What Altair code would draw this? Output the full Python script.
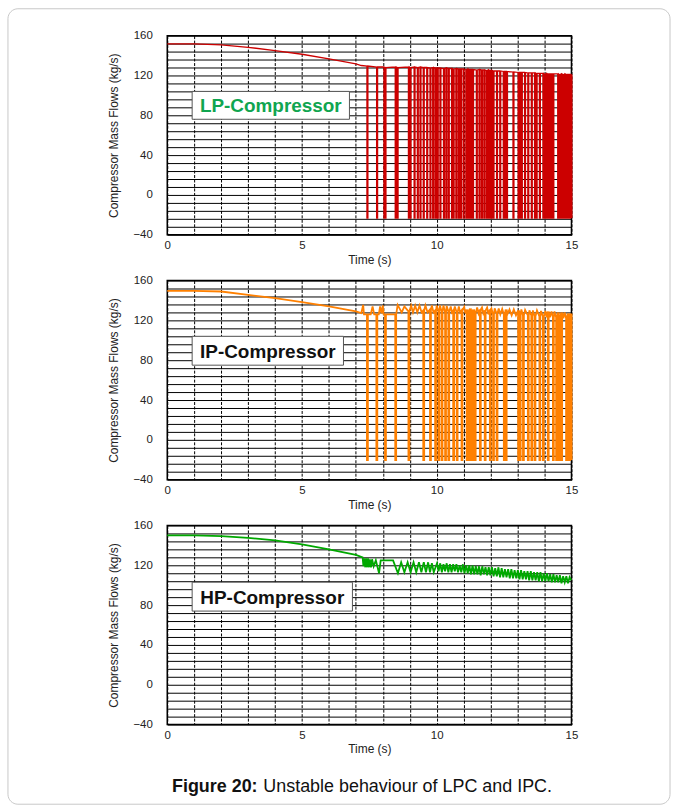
import altair as alt
import pandas as pd

FONT = "Liberation Sans"

# ---------------- LP compressor ----------------
lp_base_t = [0, 1, 2, 3, 4, 5, 6, 7, 7.2]
lp_base_v = [151.7, 151.7, 150.7, 148.3, 145.0, 141.3, 136.7, 131.7, 130.0]
lp_spike_t = [7.41, 7.77, 8.04, 8.08, 8.46, 8.53, 8.95, 9.01, 9.16, 9.28, 9.38, 9.50,
              9.63, 9.75, 9.85, 9.94, 10.02, 10.12, 10.25, 10.34, 10.43, 10.55, 10.61,
              10.71, 10.80, 10.88, 10.98, 11.08, 11.14, 11.20, 11.27, 11.33, 11.47, 11.57,
              11.66, 11.75, 11.84, 11.90, 11.97, 12.03, 12.09, 12.22, 12.34, 12.47, 12.53,
              12.59, 12.83, 13.02, 13.08, 13.14, 13.26, 13.38, 13.51, 13.63, 13.69, 13.81,
              13.94, 14.00, 14.06, 14.12, 14.18, 14.25, 14.31, 14.49, 14.55, 14.62, 14.68,
              14.74, 14.80, 14.86, 14.92, 14.98]
lp_spike_top = [129.5, 128.5, 128.5, 128.0, 128.5, 128.0, 128.5, 128.0, 128.5, 128.0, 128.5, 128.0,
                128.0, 127.5, 128.0, 127.5, 127.5, 127.5, 127.0, 127.5, 127.0, 127.0, 126.5,
                127.0, 126.5, 126.5, 126.5, 126.0, 126.5, 126.0, 126.0, 126.0, 125.5, 126.0,
                125.5, 125.5, 125.0, 125.5, 125.0, 125.0, 124.5, 124.5, 124.5, 124.0, 124.0,
                124.0, 123.5, 123.0, 123.0, 123.0, 123.0, 122.5, 122.5, 122.5, 122.0, 122.0,
                122.0, 121.5, 122.0, 121.5, 121.5, 121.5, 121.5, 121.5, 121.0, 121.5, 121.0,
                121.5, 121.0, 121.0, 121.0, 121.0]
lp_end_t = [15.0]
lp_end_v = [121.0]
LP_FLOOR = -23.3

# ---------------- IP compressor ----------------
ip_base_t = [0, 1, 2, 3, 4, 5, 6, 7, 7.2]
ip_base_v = [149.7, 149.7, 149.0, 145.7, 142.3, 138.3, 134.0, 129.0, 127.3]
ip_peak_t = [7.27, 7.30, 7.55, 7.62, 7.68, 7.85, 7.90, 7.95, 8.00, 8.03, 8.40, 8.55, 8.70, 8.80,
             9.05, 9.12, 9.20, 9.28, 9.36, 9.44, 9.58, 9.66, 9.82, 9.88, 10.00, 10.12, 10.25,
             10.37, 10.52, 10.56, 10.67, 10.82, 10.87, 11.02, 11.06, 11.50, 11.55, 11.68, 11.73,
             11.87, 11.92, 12.03, 12.15, 12.30, 12.36, 12.43, 12.62, 12.70, 12.78, 12.86, 12.94,
             13.14, 13.28, 13.44, 13.57, 13.72, 13.87, 14.03, 14.08, 14.20, 14.26, 14.37, 14.70,
             14.75, 15.00]
ip_peak_v = [135.5, 126, 126, 134, 126, 126, 134, 127, 135, 126, 126, 135.5, 128, 134,
             135, 128, 135, 128, 135, 128, 135, 128, 135, 128, 135, 135, 135,
             134.5, 134, 128, 134, 134, 128, 133.5, 127, 133, 127, 133, 127,
             133, 126, 132, 132, 132, 126, 131.5, 126, 131, 125, 131, 125,
             131, 130.5, 130, 130, 130, 129.5, 129.5, 123, 123, 129, 129, 122,
             128, 124]
ip_spike_t = [7.41, 7.76, 8.08, 8.46, 8.95, 9.50, 9.75, 9.94, 10.06, 10.18, 10.31, 10.43,
              10.61, 10.74, 10.92, 11.11, 11.17, 11.23, 11.29, 11.35, 11.41, 11.60, 11.78,
              11.97, 12.09, 12.22, 12.49, 12.56, 13.02, 13.08, 13.20, 13.38, 13.51, 13.63,
              13.81, 13.94, 14.12, 14.31, 14.43, 14.49, 14.55, 14.62, 14.80, 14.86, 14.92, 14.97]
ip_spike_top = [126, 126, 126, 126, 129, 130, 131, 130, 129, 129, 128, 129,
                130, 128, 130, 131, 127, 132, 127, 131, 127, 131, 130,
                131, 126, 127, 126, 131, 130, 126, 125, 125, 125, 124,
                124, 124, 129, 123, 123, 128, 122, 128, 122, 127, 121, 127]
IP_FLOOR = -20.3

# ---------------- HP compressor ----------------
hp_t = [0, 1, 2, 3, 4, 5, 6, 7, 7.25,
        7.28, 7.31, 7.35, 7.38, 7.42, 7.45, 7.49, 7.52, 7.56, 7.60,
        7.66, 7.74, 7.86, 7.92, 8.38, 8.56, 8.68, 8.80, 8.92,
        9.03, 9.14, 9.24, 9.34, 9.43, 9.52, 9.60, 9.68, 9.75, 9.82, 9.89,
        10.01, 10.07, 10.13, 10.19, 10.25, 10.31, 10.37, 10.43, 10.49, 10.55, 10.61, 10.67,
        10.73, 10.79, 10.85, 10.91, 10.97,
        11.03, 11.09, 11.15, 11.21, 11.27, 11.33, 11.39, 11.45, 11.51, 11.57, 11.63, 11.69,
        11.75, 11.81, 11.87, 11.93, 11.99,
        12.05, 12.11, 12.17, 12.23, 12.29, 12.35, 12.41, 12.47, 12.53, 12.59, 12.65, 12.71,
        12.77, 12.83, 12.89, 12.95, 13.01,
        13.07, 13.13, 13.19, 13.25, 13.31, 13.37, 13.43, 13.49, 13.55, 13.61, 13.67, 13.73,
        13.79, 13.85, 13.91, 13.97, 14.03,
        14.09, 14.15, 14.21, 14.27, 14.33, 14.39, 14.45, 14.51, 14.57, 14.63, 14.69, 14.75,
        14.81, 14.87, 14.93, 14.99]
hp_v = [150, 150, 149.3, 147.5, 145, 141, 136, 130.5, 128,
        119, 127, 118, 127, 118, 127, 118, 126, 118, 126,
        119, 125, 112, 125, 125, 112, 123, 113, 123,
        113, 123, 113, 123, 113, 123, 113, 123, 113, 122, 113,
        122, 114, 122, 113, 121, 114, 122, 113, 121, 113, 121, 114,
        121, 113, 120, 113, 121,
        112, 120, 112, 120, 111, 120, 111, 119, 111, 119, 110, 119,
        111, 118, 110, 118, 110,
        118, 109, 117, 109, 118, 108, 117, 108, 116, 108, 116, 107,
        116, 107, 115, 107, 115,
        106, 115, 106, 114, 106, 114, 105, 114, 105, 113, 105, 113,
        104, 113, 104, 112, 104,
        112, 104, 111, 103, 111, 103, 110, 103, 110, 102, 109, 103,
        109, 102, 108, 105]

panel_names = ["LP-Compressor", "IP-Compressor", "HP-Compressor"]
caption_bold = "Figure 20:"
caption_text = "Unstable behaviour of LPC and IPC."

x_ticks = list(range(0, 16))
y_ticks = list(range(-40, 161, 8))


def spiky_series(base_t, base_v, spike_t, spike_top, floor, width, extra_t=(), extra_v=()):
    """Trace points of a flow signal whose surge events drop to a floor value."""
    rows = [(t, v, 0) for t, v in zip(base_t, base_v)]
    rows += [(t, v, 0) for t, v in zip(extra_t, extra_v)]
    for t, top in zip(spike_t, spike_top):
        rows += [(t, top, 0), (t, floor, 1), (t + width, floor, 2), (t + width, top, 3)]
    df = pd.DataFrame(rows, columns=["t", "v", "k"])
    df = df.sort_values(["t", "k"], kind="stable").reset_index(drop=True)
    df["i"] = range(len(df))
    return df


lp_df = spiky_series(lp_base_t, lp_base_v, lp_spike_t, lp_spike_top, LP_FLOOR, 0.035,
                     lp_end_t, lp_end_v)
ip_df = spiky_series(ip_base_t, ip_base_v, ip_spike_t, ip_spike_top, IP_FLOOR, 0.035,
                     ip_peak_t, ip_peak_v)
hp_df = pd.DataFrame({"t": hp_t, "v": hp_v})
hp_df["i"] = range(len(hp_df))

x_axis = alt.Axis(values=x_ticks, labelExpr="datum.value % 5 === 0 ? datum.label : ''",
                  gridDash=[3, 1.5], labelPadding=5, titlePadding=3, labelFlush=False,
                  labelOverlap=False, tickSize=0, domain=False)
y_axis = alt.Axis(values=y_ticks, labelExpr="datum.value % 40 === 0 ? datum.label : ''",
                  labelPadding=15, titlePadding=12, labelFlush=False,
                  labelOverlap=False, tickSize=0, domain=False)

X = alt.X("t:Q", scale=alt.Scale(domain=[0, 15], nice=False, zero=False),
          axis=x_axis, title="Time (s)")
Y = alt.Y("v:Q", scale=alt.Scale(domain=[-40, 160], nice=False, zero=False),
          axis=y_axis, title="Compressor Mass Flows (kg/s)")


def panel(df, color, width, name, name_color, box, border=False, caption=False):
    line = alt.Chart(df).mark_line(color=color, strokeWidth=width).encode(
        x=X, y=Y, order="i:Q")
    lab = pd.DataFrame({"name": [name]})
    x0, x1, y0, y1 = box
    rect = alt.Chart(lab).mark_rect(fill="white", stroke="#555", strokeWidth=1).encode(
        x=alt.value(x0), x2=alt.value(x1), y=alt.value(y0), y2=alt.value(y1))
    txt = alt.Chart(lab).mark_text(font=FONT, fontSize=19, fontWeight="bold",
                                   color=name_color, align="center",
                                   baseline="middle").encode(
        x=alt.value((x0 + x1) / 2), y=alt.value((y0 + y1) / 2 + 1), text="name:N")
    layers = [line, rect, txt]
    if border:
        frame = alt.Chart(lab).mark_rect(fillOpacity=0, stroke="#c8c8c8", strokeWidth=1,
                                         cornerRadius=10).encode(
            x=alt.value(-160), x2=alt.value(505), y=alt.value(-27), y2=alt.value(772))
        layers.insert(0, frame)
    if caption:
        cap = pd.DataFrame({"a": [caption_bold], "b": [caption_text]})
        c1 = alt.Chart(cap).mark_text(font=FONT, fontSize=18, fontWeight="bold",
                                      color="#111", align="right",
                                      baseline="alphabetic").encode(
            x=alt.value(90.7), y=alt.value(268), text="a:N")
        c2 = alt.Chart(cap).mark_text(font=FONT, fontSize=18, color="#111",
                                      align="left", baseline="alphabetic").encode(
            x=alt.value(96.5), y=alt.value(268), text="b:N")
        layers += [c1, c2]
    return alt.layer(*layers).properties(width=406, height=200)


top = panel(lp_df, "#cc0000", 1.3, panel_names[0], "#10a550", (25, 183, 56, 84), border=True)
mid = panel(ip_df, "#ff8000", 1.8, panel_names[1], "#111111", (25, 177, 56, 85))
bot = panel(hp_df, "#00a800", 1.8, panel_names[2], "#111111", (25, 186, 57, 86), caption=True)

chart = alt.vconcat(top, mid, bot, spacing=46, bounds="flush").properties(
    padding={"left": 6, "top": 5, "right": 4, "bottom": 2},
    background="white",
).configure_view(
    stroke="black", strokeWidth=1.5
).configure_axis(
    labelFont=FONT, titleFont=FONT, labelFontSize=11.5, titleFontSize=12,
    titleFontWeight="normal", labelColor="#222", titleColor="#222",
    gridColor="black", gridOpacity=1, gridWidth=1,
)

chart.save("out.html", embed_options={"renderer": "svg", "actions": False})
